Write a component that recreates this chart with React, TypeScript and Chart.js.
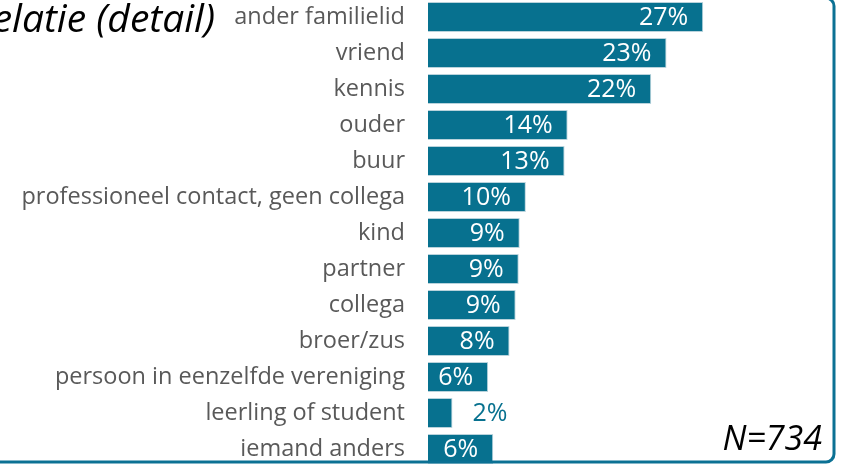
import React, { useEffect, useRef } from "react";
import { Chart, registerables } from "chart.js";
Chart.register(...registerables);

const categories = [
  "ander familielid",
  "vriend",
  "kennis",
  "ouder",
  "buur",
  "professioneel contact, geen collega",
  "kind",
  "partner",
  "collega",
  "broer/zus",
  "persoon in eenzelfde vereniging",
  "leerling of student",
  "iemand anders",
];
const values = [27.0, 23.4, 21.9, 13.7, 13.4, 9.6, 9.0, 8.9, 8.6, 8.0, 5.9, 2.4, 6.4];
const titleText = "Relatie (detail)";
const noteText = "N=734";

const BAR = "#07718F";
const FONT = "'Open Sans', sans-serif";

const overlay = {
  id: "overlay",
  afterDatasetsDraw(chart: any) {
    const ctx = chart.ctx;
    const meta = chart.getDatasetMeta(0);
    ctx.save();
    ctx.font = `25px ${FONT}`;
    ctx.textBaseline = "middle";
    meta.data.forEach((el: any, i: number) => {
      const v = values[i];
      const txt = Math.round(v) + "%";
      if (v < 4) {
        ctx.fillStyle = BAR;
        ctx.textAlign = "left";
        ctx.fillText(txt, el.x + 20, el.y + 1);
      } else {
        ctx.fillStyle = "#ffffff";
        ctx.textAlign = "right";
        ctx.fillText(txt, el.x - 15, el.y + 1);
      }
    });
    // title
    ctx.fillStyle = "#000000";
    ctx.font = `italic 39px ${FONT}`;
    ctx.textAlign = "right";
    ctx.textBaseline = "alphabetic";
    ctx.fillText(titleText, 215, 33);
    // note
    ctx.font = `italic 34px ${FONT}`;
    ctx.fillText(noteText, 822, 451);
    // frame
    ctx.strokeStyle = "#0B7194";
    ctx.lineWidth = 3;
    ctx.beginPath();
    (ctx as any).roundRect(-100, -1, 934, 464, 8);
    ctx.stroke();
    ctx.restore();
  },
};

export default function App() {
  const ref = useRef<HTMLCanvasElement>(null);
  useEffect(() => {
    document.body.style.margin = "0";
    const chart = new Chart(ref.current!, {
      type: "bar",
      data: {
        labels: categories,
        datasets: [
          {
            data: values,
            backgroundColor: BAR,
            borderColor: "#b9d3dc",
            borderWidth: 1,
            barPercentage: 0.83,
            categoryPercentage: 1,
          },
        ],
      },
      options: {
        indexAxis: "y",
        animation: false,
        responsive: false,
        layout: { padding: 0 },
        plugins: { legend: { display: false }, tooltip: { enabled: false }, title: { display: false } },
        scales: {
          x: { display: false, min: 0, max: 41.5 },
          y: {
            afterFit: (scale: any) => {
              scale.width = 428;
              scale.paddingTop = 0;
              scale.paddingBottom = 0;
            },
            grid: { display: false, drawTicks: false },
            border: { display: false },
            ticks: {
              padding: 23,
              color: "#595959",
              font: { family: "'Open Sans', sans-serif", size: 23.5 },
              autoSkip: false,
            },
          },
        },
      },
      plugins: [overlay],
    });
    return () => chart.destroy();
  }, []);
  return (
    <canvas
      ref={ref}
      width={851}
      height={468}
      style={{ position: "absolute", left: 0, top: -1, width: 851, height: 468 }}
    />
  );
}
